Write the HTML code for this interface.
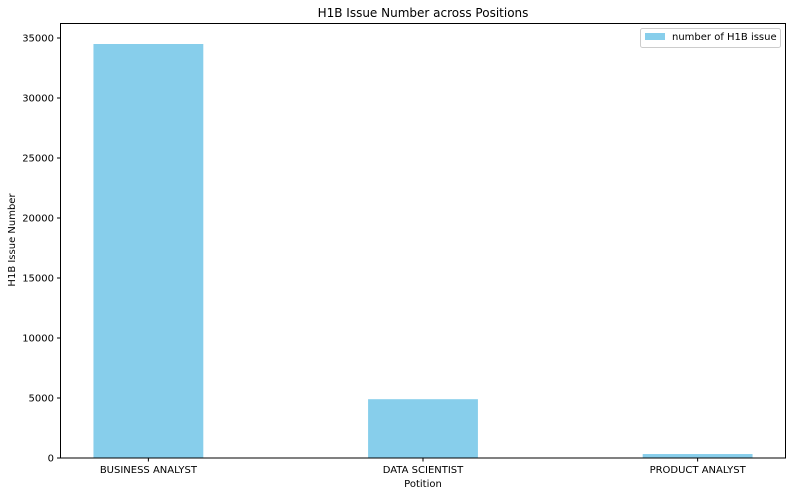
<!DOCTYPE html>
<html><head><meta charset="utf-8"><style>
body{margin:0;background:#fff;}
svg text{font-family:"DejaVu Sans","Liberation Sans",sans-serif;fill:#000;}
</style></head><body>
<svg id="chart" width="795" height="496" xmlns="http://www.w3.org/2000/svg">
<rect width="795" height="496" fill="#fff"/>
<text x="423" y="17" font-size="12" text-anchor="middle">H1B Issue Number across Positions</text>
<g id="bars"></g><g id="xticks"></g><g id="yticks"></g>
<rect x="60.5" y="23.5" width="725" height="434.5" fill="none" stroke="#000" stroke-width="1"/>
<text x="423" y="487" font-size="10" text-anchor="middle">Potition</text>
<text transform="translate(15,240) rotate(-90)" font-size="10" text-anchor="middle">H1B Issue Number</text>
<g>
<rect x="640.5" y="28.5" width="140" height="19" fill="#fff" stroke="#ccc" rx="2"/>
<rect x="645" y="33" width="20" height="7" fill="#87ceeb"/>
<text x="672" y="40" font-size="10">number of H1B issue</text>
</g>
</svg>
<script>
const categories=["BUSINESS ANALYST","DATA SCIENTIST","PRODUCT ANALYST"];
const values=[34500,4900,330];
const yTicks=[0,5000,10000,15000,20000,25000,30000,35000];
const NS="http://www.w3.org/2000/svg";
const x0=60.5,x1=785.5,yb=458,yt=23.5;
const xScale=v=>x0+(v+0.32)/2.64*(x1-x0);
const yScale=v=>yb-v/35000*(yb-38);
const bw=0.4/2.64*(x1-x0);
const bars=document.getElementById('bars'),xt=document.getElementById('xticks'),yt2=document.getElementById('yticks');
categories.forEach((c,i)=>{
 const r=document.createElementNS(NS,'rect');
 
 
 const cx=xScale(i);
 r.setAttribute('x',cx-bw/2);r.setAttribute('width',bw);
 r.setAttribute('y',yScale(values[i]));r.setAttribute('height',yb-yScale(values[i]));
 r.setAttribute('fill','#87ceeb');bars.appendChild(r);
 const l=document.createElementNS(NS,'line');
 
 
 l.setAttribute('x1',cx);l.setAttribute('x2',cx);l.setAttribute('y1',yb);l.setAttribute('y2',yb+3.5);l.setAttribute('stroke','#000');xt.appendChild(l);
 const t=document.createElementNS(NS,'text');
 
 
 t.setAttribute('x',cx);t.setAttribute('y',473);t.setAttribute('font-size','10');t.setAttribute('text-anchor','middle');t.textContent=c;xt.appendChild(t);
});
yTicks.forEach(v=>{
 const y=yScale(v);
 const l=document.createElementNS(NS,'line');
 
 
 l.setAttribute('x1',57);l.setAttribute('x2',60.5);l.setAttribute('y1',y);l.setAttribute('y2',y);l.setAttribute('stroke','#000');yt2.appendChild(l);
 const t=document.createElementNS(NS,'text');
 
 
 t.setAttribute('x',54);t.setAttribute('y',y+3.5);t.setAttribute('font-size','10');t.setAttribute('text-anchor','end');t.textContent=v;yt2.appendChild(t);
});
</script>
</body></html>
